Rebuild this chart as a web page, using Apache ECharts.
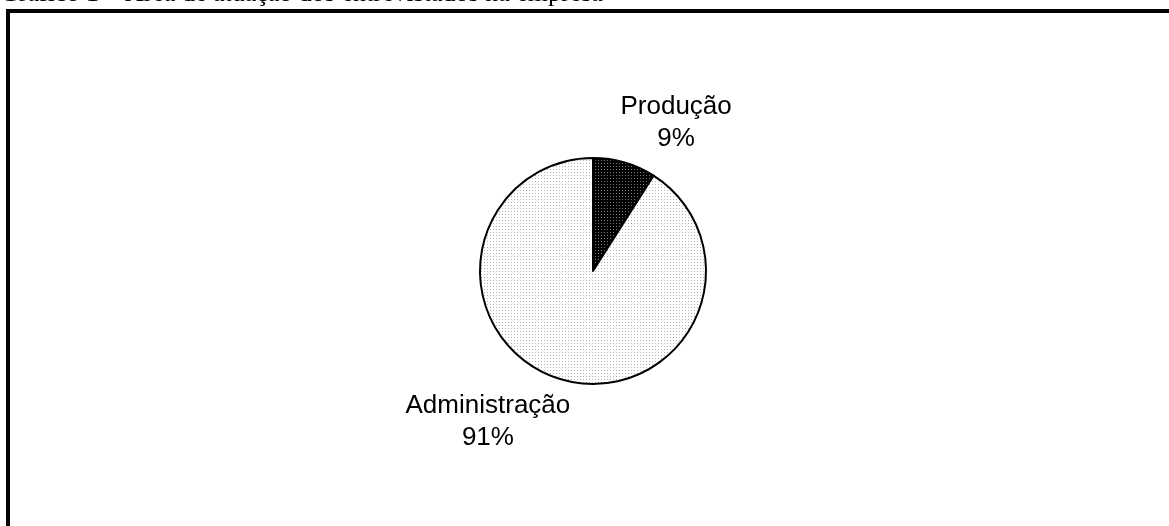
<!DOCTYPE html>
<html>
<head>
<meta charset="utf-8">
<script src="https://cdn.jsdelivr.net/npm/echarts@6/dist/echarts.min.js"></script>
<style>
  html, body { margin: 0; padding: 0; background: #fff; }
  #chart { width: 1169px; height: 526px; }
</style>
</head>
<body>
<div id="chart"></div>
<script>
// dados
const titleText = 'Gráfico 1 – Área de atuação dos entrevistados na empresa'
const categories = ['Produção', 'Administração']
const values = [9, 91]

// pequenos padrões pontilhados, como no original
function dots(bg, dot, w, h) {
    const c = document.createElement('canvas')
    c.width = w
    c.height = h
    const ctx = c.getContext('2d')
    ctx.fillStyle = bg
    ctx.fillRect(0, 0, w, h)
    ctx.fillStyle = dot
    ctx.fillRect(1, 1, 1, 1)
    return { image: c, repeat: 'repeat' }
}
const fills = [dots('#000', '#7a7a7a', 3, 3), dots('#fff', '#b4b4b4', 3, 3)]
// ajuste fino da posição dos rótulos
const labelShift = [[41, -20], [-63, 23]]

let option = {
    animation: false,
    title: {
        text: titleText,
        left: 0,
        top: -19,
        padding: 0,
        textStyle: {
            fontFamily: 'Liberation Serif',
            fontSize: 26,
            fontWeight: 'normal',
            color: '#000'
        }
    },
    graphic: [
        {
            type: 'rect',
            shape: { x: 8, y: 11, width: 1300, height: 700 },
            style: { fill: 'none', stroke: '#000', lineWidth: 4 },
            silent: true
        }
    ],
    series: [
        {
            type: 'pie',
            center: [593, 271],
            radius: 113,
            startAngle: 90,
            clockwise: true,
            avoidLabelOverlap: false,
            itemStyle: {
                borderColor: '#000',
                borderWidth: 2
            },
            label: {
                show: true,
                position: 'outside',
                formatter: '{b}\n{c}%',
                fontFamily: 'Liberation Sans',
                fontSize: 26,
                lineHeight: 32,
                color: '#000'
            },
            labelLine: { show: false, length: 20, length2: 0 },
            labelLayout: function (p) {
                const s = labelShift[p.dataIndex]
                return { dx: s[0], dy: s[1], align: 'center' }
            },
            emphasis: { disabled: true },
            data: categories.map((name, i) => ({
                name: name,
                value: values[i],
                itemStyle: { color: fills[i] }
            }))
        }
    ]
}

let chart = echarts.init(document.getElementById('chart'))
chart.setOption(option)
</script>
</body>
</html>
